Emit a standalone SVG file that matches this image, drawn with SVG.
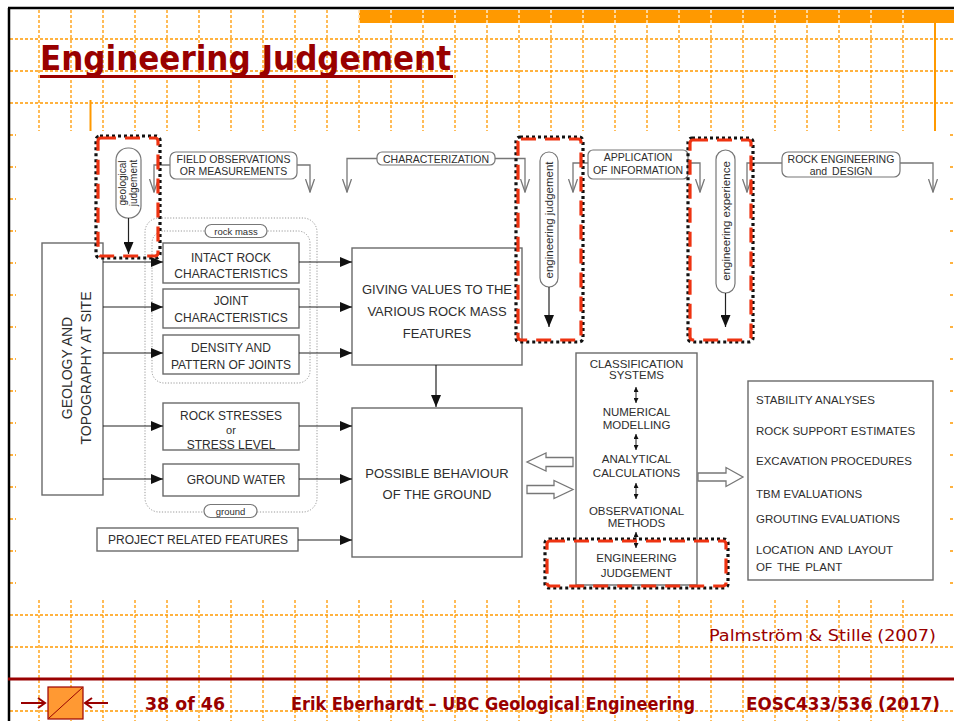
<svg xmlns="http://www.w3.org/2000/svg" width="954" height="721" viewBox="0 0 954 721">
  <defs>
    <style>
      .grid { stroke: #FF9900; stroke-width: 1.3; stroke-dasharray: 3 2; fill: none; }
      .box { fill: #fff; stroke: #6a6a6a; stroke-width: 1.4; }
      .pill { fill: #fff; stroke: #777; stroke-width: 1.2; }
      .grp { fill: none; stroke: #999; stroke-width: 1; stroke-dasharray: 1.2 1.6; }
      .t { font-family: "Liberation Sans", Arial, sans-serif; fill: #2e2e2e; text-anchor: middle; }
      .tl { font-family: "Liberation Sans", Arial, sans-serif; fill: #2e2e2e; }
      .arr { stroke: #222; stroke-width: 1.2; fill: none; marker-end: url(#head); }
      .vee { stroke: #777; stroke-width: 1.3; fill: none; marker-end: url(#open); }
      .dbl { stroke: #222; stroke-width: 1; fill: none; marker-end: url(#small); marker-start: url(#small); }
      .hollow { fill: #fff; stroke: #777; stroke-width: 1.3; }
      .hlb { fill: none; stroke: #111; stroke-width: 3.2; stroke-dasharray: 3 3; }
      .hlr { fill: none; stroke: #EE3311; stroke-width: 3.2; stroke-dasharray: 15 9; }
      .brand { font-family: "DejaVu Sans", Verdana, sans-serif; fill: #990000; }
    </style>
    <marker id="head" viewBox="0 0 12 10" refX="12" refY="5" markerWidth="12" markerHeight="10" markerUnits="userSpaceOnUse" orient="auto">
      <path d="M0,0 L12,5 L0,10 z" fill="#111"/>
    </marker>
    <marker id="open" viewBox="0 0 14 10" refX="13" refY="5" markerWidth="14" markerHeight="10" markerUnits="userSpaceOnUse" orient="auto">
      <path d="M0,0.5 L13,5 L0,9.5" fill="none" stroke="#777" stroke-width="1.3"/>
    </marker>
    <marker id="small" viewBox="0 0 5 5" refX="5" refY="2.5" markerWidth="5" markerHeight="5" markerUnits="userSpaceOnUse" orient="auto-start-reverse">
      <path d="M0,0 L5,2.5 L0,5 z" fill="#111"/>
    </marker>
  </defs>

  <rect width="954" height="721" fill="#fff"/>

  <!-- background grid -->
  <g id="grid">
    <path class="grid" d="M39,10V721 M71,10V721 M103,10V721 M135,10V721 M167,10V721 M199,10V721 M231,10V721 M263,10V721 M295,10V721 M327,10V721 M359,10V721 M391,10V721 M423,10V721 M455,10V721 M487,10V721 M519,10V721 M551,10V721 M583,10V721 M615,10V721 M647,10V721 M679,10V721 M711,10V721 M743,10V721 M775,10V721 M807,10V721 M839,10V721 M871,10V721 M903,10V721"/>
    <path class="grid" d="M10,39H954 M10,71H954 M10,103H954 M10,135H954 M10,167H954 M10,199H954 M10,231H954 M10,263H954 M10,295H954 M10,327H954 M10,359H954 M10,391H954 M10,423H954 M10,455H954 M10,487H954 M10,519H954 M10,551H954 M10,583H954 M10,615H954 M10,647H954 M10,711H954"/>
  </g>

  <!-- slide frame and header -->
  <g id="frame">
    <rect x="16" y="131" width="932" height="467" fill="#fff"/>
    <rect x="359" y="10" width="595" height="13" fill="#FF9900"/>
    <path d="M359,10V23 M391,10V23 M423,10V23 M455,10V23 M487,10V23 M519,10V23 M551,10V23 M583,10V23 M615,10V23 M647,10V23 M679,10V23 M711,10V23 M743,10V23 M775,10V23 M807,10V23 M839,10V23 M871,10V23 M903,10V23" stroke="#fff" stroke-width="1.2" stroke-dasharray="3 2"/>
    <path d="M90.5,100V131 M935,23V131" stroke="#FF9900" stroke-width="2"/>
    <path d="M8,8H954 M9,8V721" stroke="#000" stroke-width="2.5"/>
    <text class="brand" x="40" y="70" font-size="34" font-weight="bold" textLength="411" lengthAdjust="spacingAndGlyphs">Engineering Judgement</text>
    <rect x="40" y="75" width="413" height="3" fill="#990000"/>
  </g>

  <!-- grouping outlines -->
  <g id="groups">
    <rect class="grp" x="145" y="218" width="172" height="294" rx="14"/>
    <rect class="grp" x="152" y="231" width="158" height="152" rx="12"/>
    <rect class="pill" x="205" y="224.5" width="62" height="13" rx="6.5"/>
    <text class="t" x="236" y="234.5" font-size="9.5">rock mass</text>
    <rect class="pill" x="204" y="504.5" width="53" height="13" rx="6.5"/>
    <text class="t" x="230.5" y="514.5" font-size="9.5">ground</text>
  </g>

  <g id="geology">
    <rect class="box" x="42" y="243" width="61" height="252"/>
    <g transform="translate(0,368)" font-size="14">
      <text class="t" transform="translate(72,0) rotate(-90)" x="0" y="0">GEOLOGY AND</text>
      <text class="t" transform="translate(91,0) rotate(-90)" x="0" y="0">TOPOGRAPHY AT SITE</text>
    </g>
  </g>

  <g id="intact-rock">
    <rect class="box" x="163" y="243" width="136" height="40"/>
    <text class="t" x="231" y="261.5" font-size="12">INTACT ROCK</text>
    <text class="t" x="231" y="277.5" font-size="12">CHARACTERISTICS</text>
  </g>
  <g id="joint">
    <rect class="box" x="163" y="289" width="136" height="39"/>
    <text class="t" x="231" y="304.5" font-size="12">JOINT</text>
    <text class="t" x="231" y="321.5" font-size="12">CHARACTERISTICS</text>
  </g>
  <g id="density">
    <rect class="box" x="163" y="335" width="136" height="39"/>
    <text class="t" x="231" y="351.5" font-size="12">DENSITY AND</text>
    <text class="t" x="231" y="368.5" font-size="12">PATTERN OF JOINTS</text>
  </g>
  <g id="stresses">
    <rect class="box" x="163" y="403" width="136" height="47"/>
    <text class="t" x="231" y="419.5" font-size="12">ROCK STRESSES</text>
    <text class="t" x="231" y="434" font-size="11">or</text>
    <text class="t" x="231" y="448.5" font-size="12">STRESS LEVEL</text>
  </g>
  <g id="groundwater">
    <rect class="box" x="163" y="464" width="136" height="32"/>
    <text class="t" x="236" y="483.5" font-size="12">GROUND WATER</text>
  </g>
  <g id="project">
    <rect class="box" x="97" y="528" width="201" height="23"/>
    <text class="t" x="198" y="543.5" font-size="12">PROJECT RELATED FEATURES</text>
  </g>

  <g id="values">
    <rect class="box" x="352" y="248" width="170" height="117"/>
    <text class="t" x="437" y="293.5" font-size="13">GIVING VALUES TO THE</text>
    <text class="t" x="437" y="315.5" font-size="13">VARIOUS ROCK MASS</text>
    <text class="t" x="437" y="337.5" font-size="13">FEATURES</text>
  </g>
  <g id="behaviour">
    <rect class="box" x="352" y="408" width="170" height="149"/>
    <text class="t" x="437" y="477.5" font-size="13">POSSIBLE BEHAVIOUR</text>
    <text class="t" x="437" y="498.5" font-size="13">OF THE GROUND</text>
  </g>

  <g id="methods">
    <rect class="box" x="576" y="353" width="121" height="232"/>
    <g font-size="11.5">
      <text class="t" x="636.5" y="368">CLASSIFICATION</text>
      <text class="t" x="636.5" y="379">SYSTEMS</text>
      <text class="t" x="636.5" y="416">NUMERICAL</text>
      <text class="t" x="636.5" y="429">MODELLING</text>
      <text class="t" x="636.5" y="463">ANALYTICAL</text>
      <text class="t" x="636.5" y="477">CALCULATIONS</text>
      <text class="t" x="636.5" y="515">OBSERVATIONAL</text>
      <text class="t" x="636.5" y="527">METHODS</text>
      <text class="t" x="636.5" y="562">ENGINEERING</text>
      <text class="t" x="636.5" y="577">JUDGEMENT</text>
    </g>
  </g>

  <g id="results">
    <rect class="box" x="748" y="381" width="185" height="199"/>
    <g font-size="11.5">
      <text class="tl" x="756" y="403.5">STABILITY ANALYSES</text>
      <text class="tl" x="756" y="434.5">ROCK SUPPORT ESTIMATES</text>
      <text class="tl" x="756" y="464.5">EXCAVATION PROCEDURES</text>
      <text class="tl" x="756" y="497.5">TBM EVALUATIONS</text>
      <text class="tl" x="756" y="522.5">GROUTING EVALUATIONS</text>
      <text class="tl" x="756" y="553.5" word-spacing="2">LOCATION AND LAYOUT</text>
      <text class="tl" x="756" y="570.5" word-spacing="2">OF THE PLANT</text>
    </g>
  </g>

  <g id="field-observations">
    <rect class="pill" x="170" y="152" width="127" height="27" rx="6"/>
    <text class="t" x="233.5" y="163" font-size="10.5">FIELD OBSERVATIONS</text>
    <text class="t" x="233.5" y="175" font-size="10.5">OR MEASUREMENTS</text>
  </g>
  <g id="characterization">
    <rect class="pill" x="377" y="152" width="118" height="13" rx="5"/>
    <text class="t" x="436" y="162.5" font-size="10.5">CHARACTERIZATION</text>
  </g>
  <g id="application">
    <rect class="pill" x="588" y="150" width="100" height="29" rx="5"/>
    <text class="t" x="638" y="161" font-size="10.5">APPLICATION</text>
    <text class="t" x="638" y="174" font-size="10.5">OF INFORMATION</text>
  </g>
  <g id="rock-engineering">
    <rect class="pill" x="782" y="152" width="118" height="25" rx="6"/>
    <text class="t" x="841" y="163" font-size="10.5">ROCK ENGINEERING</text>
    <text class="t" x="841" y="175" font-size="10.5" word-spacing="2">and DESIGN</text>
  </g>

  <g id="geological-judgement">
    <rect class="pill" x="116" y="148" width="25" height="70" rx="12"/>
    <text class="t" transform="translate(125.5,183) rotate(-90)" font-size="10">geological</text>
    <text class="t" transform="translate(137,183) rotate(-90)" font-size="10">judgement</text>
  </g>
  <g id="engineering-judgement">
    <rect class="pill" x="540" y="152" width="18" height="135" rx="9"/>
    <text class="t" transform="translate(553,220) rotate(-90)" font-size="11.5">engineering judgement</text>
  </g>
  <g id="engineering-experience">
    <rect class="pill" x="716" y="150" width="19" height="143" rx="9.5"/>
    <text class="t" transform="translate(730,221) rotate(-90)" font-size="11.5">engineering experience</text>
  </g>

  <!-- connectors -->
  <g id="connectors">
    <!-- top flow labels -->
    <path class="vee" d="M170,165H154V192"/>
    <path class="vee" d="M297,165H310V192"/>
    <path class="vee" d="M377,158.5H347V192"/>
    <path class="vee" d="M495,158.5H525V192"/>
    <path class="vee" d="M588,163H573V192"/>
    <path class="vee" d="M688,163H700V192"/>
    <path class="vee" d="M782,163H747V192"/>
    <path class="vee" d="M900,163H933V192"/>
    <!-- judgement capsules -->
    <path class="arr" d="M128.5,218V254"/>
    <path class="arr" d="M549,287V327"/>
    <path class="arr" d="M725.5,293V327"/>
    <!-- geology to rock features -->
    <path class="arr" d="M103,262H163"/>
    <path class="arr" d="M103,307H163"/>
    <path class="arr" d="M103,353H163"/>
    <path class="arr" d="M103,426H163"/>
    <path class="arr" d="M103,479H163"/>
    <!-- features to evaluation -->
    <path class="arr" d="M299,262H352"/>
    <path class="arr" d="M299,307H352"/>
    <path class="arr" d="M299,353H352"/>
    <path class="arr" d="M299,426H352"/>
    <path class="arr" d="M299,479H352"/>
    <path class="arr" d="M298,540H352"/>
    <path class="arr" d="M436,365V407"/>
    <!-- between methods -->
    <path class="dbl" d="M636,387V403"/>
    <path class="dbl" d="M636,434V450"/>
    <path class="dbl" d="M636,483V499"/>
    <path class="dbl" d="M636,532V548"/>
    <!-- hollow arrows -->
    <path class="hollow" d="M573,457.5H546V453L527,462L546,471V466.5H573Z"/>
    <path class="hollow" d="M527,485.5H554V480.5L573,489.5L554,498.5V493.5H527Z"/>
    <path class="hollow" d="M698,473H726V467.5L743,477L726,486.5V481H698Z"/>
  </g>

  <!-- highlighted judgement steps -->
  <g id="highlights">
    <rect class="hlb" x="96" y="136" width="64" height="122" rx="4"/>
    <rect class="hlr" x="98" y="138" width="60" height="118" rx="3"/>
    <rect class="hlb" x="516" y="137" width="67" height="205" rx="4"/>
    <rect class="hlr" x="518" y="139" width="63" height="201" rx="3"/>
    <rect class="hlb" x="688" y="138" width="65" height="204" rx="4"/>
    <rect class="hlr" x="690" y="140" width="61" height="200" rx="3"/>
    <rect class="hlb" x="545" y="539" width="183" height="49" rx="4"/>
    <rect class="hlr" x="547" y="541" width="179" height="45" rx="3"/>
  </g>

  <g id="footer">
    <text class="brand" x="709" y="641" font-size="16" textLength="227" lengthAdjust="spacingAndGlyphs">Palmström &amp; Stille (2007)</text>
    <path d="M8,679H954" stroke="#990000" stroke-width="3"/>
    <path d="M21,703H44 M38,698L45,703L38,708 M108,703H86 M92,698L85,703L92,708" stroke="#990000" stroke-width="2" fill="none"/>
    <rect x="48" y="687" width="35" height="32" fill="#FF9933" stroke="#990000" stroke-width="1.2"/>
    <path d="M49,718L82,688" stroke="#990000" stroke-width="1"/>
    <text class="brand" x="145" y="710" font-size="17" font-weight="bold" textLength="80" lengthAdjust="spacingAndGlyphs">38 of 46</text>
    <text class="brand" x="291" y="710" font-size="17" font-weight="bold" textLength="404" lengthAdjust="spacingAndGlyphs">Erik Eberhardt – UBC Geological Engineering</text>
    <text class="brand" x="746" y="710" font-size="17" font-weight="bold" textLength="194" lengthAdjust="spacingAndGlyphs">EOSC433/536 (2017)</text>
  </g>
</svg>
